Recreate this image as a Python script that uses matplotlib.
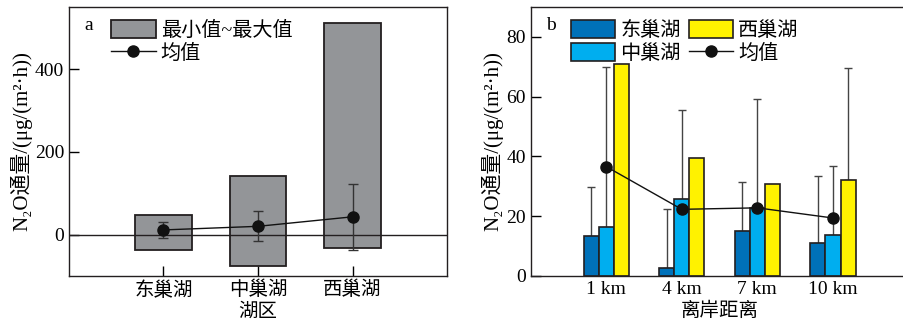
import numpy as np
import matplotlib
matplotlib.use("Agg")
import matplotlib.pyplot as plt

plt.rcParams['font.family'] = ['Liberation Serif', 'DejaVu Serif', 'Noto Sans CJK SC']
plt.rcParams['font.size'] = 14
plt.rcParams['axes.unicode_minus'] = False

# panel a: lake regions
lakes = ['东巢湖', '中巢湖', '西巢湖']
flux_min = [-38, -76, -33]
flux_max = [47.5, 140.5, 511]
flux_mean = [11.3, 20, 43]
flux_sd = [19, 36, 80]

# panel b: distance from shore
dist = ['1 km', '4 km', '7 km', '10 km']
east = [13.3, 2.6, 14.9, 11.1]
mid = [16.5, 25.9, 22.9, 13.7]
west = [70.8, 39.6, 30.7, 32.0]
east_err = [16.4, 19.7, 16.6, 22.5]
mid_err = [53.4, 29.5, 36.3, 23.2]
west_err = [0, 0, 0, 37.7]
dist_mean = [36.6, 22.3, 22.8, 19.4]

ylab = 'N₂O通量/(μg/(m²·h))'
edge = '#231f20'

fig = plt.figure(figsize=(9.04, 3.27), dpi=100)
ax1 = fig.add_axes([0.0763, 0.156, 0.4182, 0.8226])
ax2 = fig.add_axes([0.587, 0.156, 0.418, 0.8226])

# ---- panel a
x = np.arange(len(lakes))
bars = ax1.bar(x, np.array(flux_max) - np.array(flux_min), bottom=flux_min, width=0.6,
               color='#939598', edgecolor=edge, linewidth=1.3, zorder=2)
ax1.axhline(0, color='#231f20', lw=1, zorder=3)
ax1.errorbar(x, flux_mean, yerr=flux_sd, fmt='none', ecolor='#333333', elinewidth=1,
             capsize=3.5, capthick=1, zorder=4)
line, = ax1.plot(x, flux_mean, '-o', color='#111111', lw=1, ms=8, zorder=5)
ax1.set_xlim(-1, 3)
ax1.set_ylim(-100, 550)
ax1.set_yticks([0, 200, 400])
ax1.set_xticks(x)
ax1.set_xticklabels(lakes)
ax1.set_xlabel('湖区', labelpad=3)
ax1.set_ylabel(ylab, labelpad=2, fontsize=15)
ax1.tick_params(direction='in', length=7, width=1)
ax1.text(0.04, 0.93, 'a', transform=ax1.transAxes, fontsize=14, va='center')
ax1.legend([bars, line], ['最小值~最大值', '均值'], loc='upper left',
           bbox_to_anchor=(0.08, 0.995), frameon=False, fontsize=14.5,
           handlelength=2.2, handleheight=1.0, handletextpad=0.25,
           labelspacing=0.1, borderaxespad=0.2)

# ---- panel b
xb = np.arange(len(dist))
w = 0.2
ax2.errorbar(xb - w, east, yerr=[np.zeros(4), east_err], fmt='none', ecolor='#444444',
             elinewidth=1, capsize=3, zorder=1)
ax2.errorbar(xb, mid, yerr=[np.zeros(4), mid_err], fmt='none', ecolor='#444444',
             elinewidth=1, capsize=3, zorder=1)
wi = [i for i in range(4) if west_err[i] > 0]
ax2.errorbar(xb[wi] + w, np.array(west)[wi], yerr=[np.zeros(len(wi)), np.array(west_err)[wi]],
             fmt='none', ecolor='#444444', elinewidth=1, capsize=3, zorder=1)
ax2.bar(xb - w, east, width=w, color='#0071b9', edgecolor=edge, lw=1.2, label='东巢湖', zorder=2)
ax2.bar(xb, mid, width=w, color='#00aeef', edgecolor=edge, lw=1.2, label='中巢湖', zorder=2)
ax2.bar(xb + w, west, width=w, color='#fff200', edgecolor=edge, lw=1.2, label='西巢湖', zorder=2)
ax2.plot(xb, dist_mean, '-o', color='#111111', lw=1, ms=8, label='均值', zorder=5)
ax2.set_xlim(-1, 4)
ax2.set_ylim(0, 90)
ax2.set_yticks([0, 20, 40, 60, 80])
ax2.set_xticks(xb)
ax2.set_xticklabels(dist)
ax2.set_xlabel('离岸距离', labelpad=3)
ax2.set_ylabel(ylab, labelpad=2, fontsize=15)
ax2.tick_params(direction='in', length=7, width=1)
ax2.text(0.04, 0.93, 'b', transform=ax2.transAxes, fontsize=14, va='center')
h, l = ax2.get_legend_handles_labels()
order = [1, 2, 3, 0]
ax2.legend([h[i] for i in order], [l[i] for i in order], ncol=2, loc='upper left',
           bbox_to_anchor=(0.075, 0.995), frameon=False, fontsize=14.5,
           handlelength=2.2, handleheight=1.0, handletextpad=0.25,
           labelspacing=0.1, columnspacing=0.4, borderaxespad=0.2)

for ax in (ax1, ax2):
    for s in ax.spines.values():
        s.set_linewidth(1)
        s.set_color('#231f20')

fig.savefig('out.png', dpi=100)
